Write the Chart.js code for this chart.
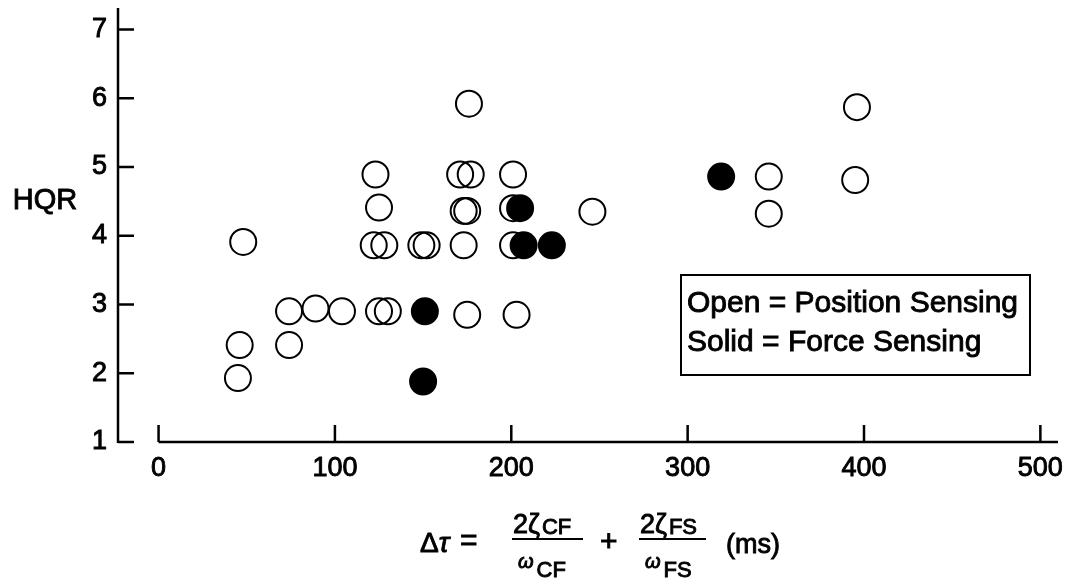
<!DOCTYPE html>
<html>
<head>
<meta charset="utf-8">
<script src="https://cdn.jsdelivr.net/npm/chart.js@4"></script>
<style>
  body { margin: 0; background: #fff; }
  #wrap { width: 1075px; height: 579px; }
</style>
</head>
<body>
<div id="wrap"><canvas id="hqrChart" width="1075" height="579"></canvas></div>
<script>
// values: x = delta tau (ms), y = HQR
const openX = [176, 396, 123, 171, 177, 201, 346, 395, 125, 173, 175, 201, 246, 346,
               48, 122, 128, 149, 152, 173, 201, 74, 89, 104, 125, 130, 175, 203, 46, 74, 45];
const openY = [5.92, 5.87, 4.89, 4.89, 4.89, 4.89, 4.86, 4.81, 4.41, 4.36, 4.36, 4.40, 4.35, 4.32,
               3.91, 3.86, 3.86, 3.86, 3.86, 3.86, 3.86, 2.90, 2.94, 2.90, 2.90, 2.90, 2.85, 2.85, 2.41, 2.41, 1.93];
const solidX = [319, 205, 207, 223, 151, 150];
const solidY = [4.86, 4.40, 3.86, 3.86, 2.90, 1.88];

const xTicks = [0, 100, 200, 300, 400, 500];
const yTicks = [1, 2, 3, 4, 5, 6, 7];

const legendLines = ['Open = Position Sensing', 'Solid = Force Sensing'];

const FONT = '"Liberation Sans", Arial, Helvetica, sans-serif';

function toPoints(xs, ys) {
  return xs.map((x, i) => ({ x: x, y: ys[i] }));
}

// text a bit heavier, like the scanned original
function heavyText(c, txt, x, y, font, sw) {
  c.font = font;
  c.lineWidth = sw === undefined ? 0.9 : sw;
  c.strokeText(txt, x, y);
  c.fillText(txt, x, y);
  return c.measureText(txt).width;
}

// axes are drawn by hand: x axis starts at 0, separate from the y axis
const axesPlugin = {
  id: 'handAxes',
  afterDraw(chart) {
    const ctx = chart.ctx;
    const xs = chart.scales.x, ys = chart.scales.y;
    const area = chart.chartArea;
    ctx.save();
    ctx.strokeStyle = '#000';
    ctx.fillStyle = '#000';
    ctx.lineWidth = 2.5;
    ctx.lineCap = 'butt';

    // y axis, runs a little above the 7 tick
    ctx.beginPath();
    ctx.moveTo(area.left, Math.min(area.top, 8));
    ctx.lineTo(area.left, area.bottom + 1);
    yTicks.forEach(v => {
      const py = ys.getPixelForValue(v);
      ctx.moveTo(area.left, py);
      ctx.lineTo(area.left + 16, py);
    });
    ctx.stroke();

    // x axis
    const x0 = xs.getPixelForValue(0);
    ctx.beginPath();
    ctx.moveTo(x0, area.bottom);
    ctx.lineTo(area.right, area.bottom);
    xTicks.forEach(v => {
      const px = xs.getPixelForValue(v);
      ctx.moveTo(px, area.bottom);
      ctx.lineTo(px, area.bottom - 17);
    });
    ctx.stroke();

    // HQR label
    ctx.textAlign = 'center';
    ctx.textBaseline = 'middle';
    heavyText(ctx, 'HQR', 45, 201, '29px ' + FONT);

    // legend box
    ctx.lineWidth = 2;
    ctx.strokeRect(681, 275, 349, 100);
    ctx.textAlign = 'left';
    heavyText(ctx, legendLines[0], 687, 304, '30px ' + FONT);
    heavyText(ctx, legendLines[1], 687, 343, '30px ' + FONT);

    // x axis title: delta tau formula
    const lineY = 539;
    ctx.textBaseline = 'alphabetic';
    let w = heavyText(ctx, 'Δ', 420, 552, '28px ' + FONT);
    heavyText(ctx, 'τ', 420 + w, 552, 'italic 28px ' + FONT);
    heavyText(ctx, '=', 460, 550, '30px ' + FONT);
    heavyText(ctx, '+', 600, 551, '30px ' + FONT);
    heavyText(ctx, '(ms)', 726, 553, '27px ' + FONT);

    function fraction(left, right, sub) {
      ctx.lineWidth = 2.2;
      ctx.beginPath();
      ctx.moveTo(left, lineY);
      ctx.lineTo(right, lineY);
      ctx.stroke();
      let nw = heavyText(ctx, '2ζ', left + 1, 533, '27px ' + FONT);
      heavyText(ctx, sub, left + nw + 3, 534, '22px ' + FONT);
      let dw = heavyText(ctx, 'ω', left + 6, 568, 'italic 20px ' + FONT);
      heavyText(ctx, sub, left + 6 + dw + 3, 577, '22px ' + FONT);
    }
    fraction(512, 583, 'CF');
    fraction(639, 706, 'FS');

    ctx.restore();
  }
};

const ctx = document.getElementById('hqrChart').getContext('2d');
const hqrChart = new Chart(ctx, {
  type: 'scatter',
  data: {
    datasets: [
      {
        label: 'Solid = Force Sensing',
        data: toPoints(solidX, solidY),
        pointRadius: 13,
        pointHoverRadius: 13,
        pointBorderWidth: 2,
        pointBackgroundColor: '#000',
        pointBorderColor: '#000'
      },
      {
        label: 'Open = Position Sensing',
        data: toPoints(openX, openY),
        pointRadius: 13,
        pointHoverRadius: 13,
        pointBorderWidth: 2,
        pointBackgroundColor: 'rgba(0,0,0,0)',
        pointBorderColor: '#000'
      }
    ]
  },
  options: {
    responsive: false,
    animation: false,
    events: [],
    layout: { padding: { top: 1, right: 17, left: 0, bottom: 0 } },
    plugins: {
      legend: { display: false },
      tooltip: { enabled: false }
    },
    scales: {
      x: {
        type: 'linear',
        min: -23,
        max: 510,
        grid: { display: false, drawTicks: false },
        border: { display: false },
        afterBuildTicks: scale => { scale.ticks = xTicks.map(v => ({ value: v })); },
        afterFit: scale => {
          scale.height = 137;
          scale.paddingLeft = 0;
          scale.paddingRight = 0;
        },
        ticks: {
          color: '#000',
          padding: 10,
          maxRotation: 0,
          textStrokeColor: '#000',
          textStrokeWidth: 0.9,
          font: { family: FONT, size: 27 }
        }
      },
      y: {
        type: 'linear',
        min: 1,
        max: 7.21,
        grid: { display: false, drawTicks: false },
        border: { display: false },
        afterBuildTicks: scale => { scale.ticks = yTicks.map(v => ({ value: v })); },
        afterFit: scale => {
          scale.width = 118;
          scale.paddingTop = 0;
          scale.paddingBottom = 0;
        },
        ticks: {
          color: '#000',
          padding: 11,
          textStrokeColor: '#000',
          textStrokeWidth: 0.9,
          font: { family: FONT, size: 27 }
        }
      }
    }
  },
  plugins: [axesPlugin]
});
</script>
</body>
</html>
